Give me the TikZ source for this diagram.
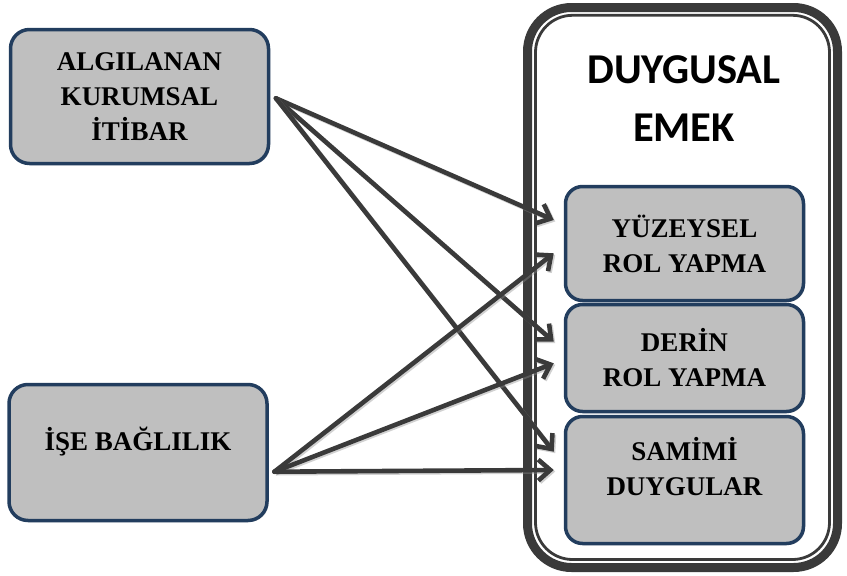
\documentclass[tikz,border=0pt]{standalone}
\usepackage{fontspec}
\setmainfont{Liberation Serif}
\newfontfamily\titlefont{Carlito}
\usetikzlibrary{arrows.meta,calc,shadows}
\definecolor{boxfill}{HTML}{BFBFBF}
\definecolor{boxline}{HTML}{223D5E}
\definecolor{darkline}{HTML}{3A3A3A}
\begin{document}
\begin{tikzpicture}[x=1pt,y=-1pt,
  box/.style={draw=boxline, fill=boxfill, line width=3.5pt, rounded corners=19pt,
    align=center, inner sep=0pt,
    font=\fontsize{27}{35}\selectfont\bfseries,
    drop shadow={shadow xshift=1.5pt, shadow yshift=-1.5pt, opacity=0.18, fill=black}},
  lbox/.style={box, minimum width=258pt},
  rbox/.style={box, minimum width=238pt, rounded corners=17pt},
  link/.style={draw=darkline, line width=4.6pt, line cap=round,
    -{Straight Barb[length=12pt,width=21pt]},
    preaction={draw=black!45, opacity=0.4, line width=4.6pt,
      transform canvas={shift={(1.5pt,-1.5pt)}}}}
]
\useasboundingbox (0,0) rectangle (847,576);
% container
\draw[darkline, line width=9pt, rounded corners=44pt] (527.5,7.5) rectangle (837.5,567.5);
\draw[darkline, line width=2.8pt, rounded corners=37pt] (535.5,15.3) rectangle (829.5,559.5);
\node (title) at (684,98.5) [align=center, font=\titlefont\fontsize{42.5}{58}\selectfont\bfseries] {DUYGUSAL\\EMEK};
% left boxes
\node[lbox, minimum height=134pt] (ait) at (139.5,96.5) {ALGILANAN\\KURUMSAL\\İTİBAR};
\node[lbox, minimum height=136pt, text depth=28pt] (isb) at (138,452.5) {İŞE BAĞLILIK};
% right boxes
\node[rbox, minimum height=114pt] (yuz) at (684.5,243.5) {YÜZEYSEL\\ROL YAPMA};
\node[rbox, minimum height=107pt] (der) at (684.5,358) {DERİN\\ROL YAPMA};
\node[rbox, minimum height=127pt] (sam) at (684.5,480) {SAMİMİ\\DUYGULAR\\[-7pt]\mbox{}};
% connectors
\draw[link] ($(ait.east)+(5.7,1.8)$) -- ($(yuz.west)+(-10,-23.5)$);
\draw[link] ($(ait.east)+(5.7,1.8)$) -- ($(der.west)+(-10,-16.3)$);
\draw[link] ($(ait.east)+(5.7,1.8)$) -- ($(sam.west)+(-10,-28.3)$);
\draw[link] ($(isb.east)+(5.7,19.2)$) -- ($(yuz.west)+(-10,9.8)$);
\draw[link] ($(isb.east)+(5.7,19.2)$) -- ($(der.west)+(-10,5.3)$);
\draw[link] ($(isb.east)+(5.7,19.2)$) -- ($(sam.west)+(-10,-10)$);
\end{tikzpicture}
\end{document}
